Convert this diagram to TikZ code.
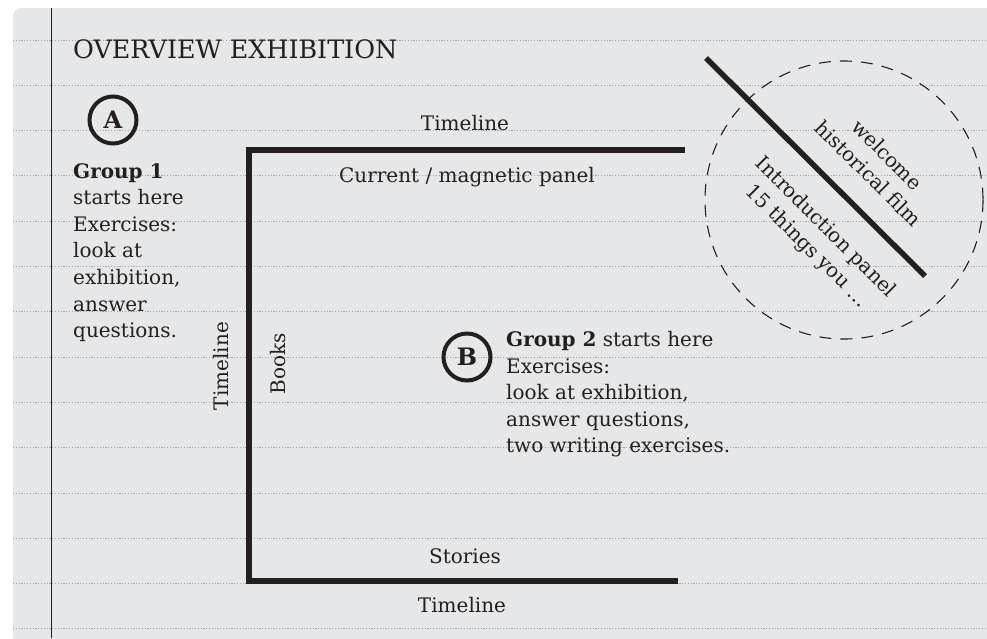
\documentclass[tikz,border=0pt]{standalone}
\usepackage{fontspec}
\setmainfont{DejaVu Serif}
\usetikzlibrary{positioning}

\definecolor{paper}{HTML}{E6E7E8}
\definecolor{ink}{HTML}{231F20}
\definecolor{rule}{HTML}{A3A5A8}

\begin{document}
\begin{tikzpicture}[x=1pt, y=-1pt,
    wall/.style={line width=5.5pt, color=ink},
    badge/.style={circle, draw=ink, line width=4pt, minimum size=47pt, inner sep=0pt,
        text=ink, font=\bfseries\fontsize{24}{24}\selectfont},
    label/.style={text=ink, inner sep=0pt, font=\fontsize{20}{26.6}\selectfont},
    notes/.style={label, align=left, anchor=north west}]
    \useasboundingbox (0,0) rectangle (987,638);
    \clip (0,0) rectangle (987,638);

    % paper and ruling
    \fill [paper, rounded corners=8pt] (13,8) rectangle (1010,660);
    \foreach \y in {0,...,13}
        \draw [rule, line width=1pt, dash pattern=on 1.2pt off 1.6pt] (13,40+45.3*\y) -- (987,40+45.3*\y);
    \draw [ink, line width=1pt] (51,8) -- (51,638);

    \node [label, anchor=base west, font=\fontsize{25.4}{26}\selectfont] (title) at (73,58) {OVERVIEW EXHIBITION};

    % exhibition walls
    \coordinate (tr) at (685,150);
    \coordinate (tl) at (249,150);
    \coordinate (bl) at (249,581);
    \coordinate (br) at (678,581);
    \draw [wall] (tr) -- (tl) -- (bl) -- (br);

    \node [label, anchor=base] (tlTop) at (465,130) {Timeline};
    \node [label, anchor=base] (panel) at (467,182) {Current / magnetic panel};
    \node [label, anchor=base, rotate=90] (tlLeft) at (228,366) {Timeline};
    \node [label, anchor=base, rotate=90] (books) at (285,364) {Books};
    \node [label, anchor=base] (stories) at (465,563) {Stories};
    \node [label, anchor=base] (tlBottom) at (462,612) {Timeline};

    % entrance
    \coordinate (d1) at (706,58);
    \coordinate (d2) at (925,276);
    \draw [ink, line width=1.1pt, dash pattern=on 12pt off 9pt] (844,200) circle (139);
    \draw [wall] (d1) -- (d2);
    \node [label, align=center, rotate=-45] (welcome) at (878,164) {welcome\\historical film};
    \node [label, align=center, rotate=-45] (intro) at (816,237) {Introduction panel\\15 things you \dots};

    % groups
    \node [badge] (A) at (113,120) {A};
    \node [notes] (group1) at (73,163) {\textbf{Group 1}\\starts here\\Exercises:\\look at\\exhibition,\\answer\\questions.};

    \node [badge] (B) at (467,357) {B};
    \node [notes] (group2) at (506,331) {\textbf{Group 2} starts here\\Exercises:\\look at exhibition,\\answer questions,\\two writing exercises.};
\end{tikzpicture}
\end{document}
